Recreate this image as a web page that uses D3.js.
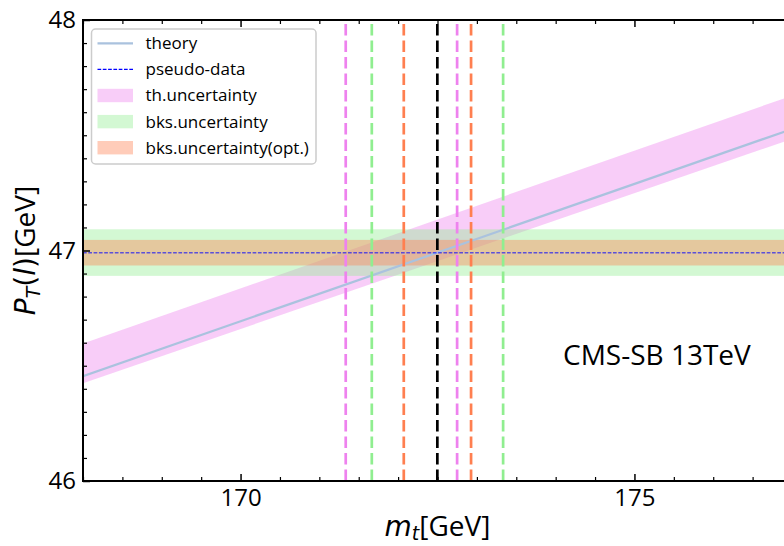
<!DOCTYPE html>
<html>
<head>
<meta charset="utf-8">
<script src="https://cdn.jsdelivr.net/npm/d3@7"></script>
<style>
  html, body { margin: 0; padding: 0; background: #fff; }
  svg { display: block; }
  text { font-family: "Open Sans", "Noto Sans", sans-serif; fill: #000; }
</style>
</head>
<body>
<svg id="chart" width="784" height="546"></svg>
<script>
// ---------------- data ----------------
const xDomain = [168, 177];
const yDomain = [46, 48];
const xMajorTicks = [170, 175];
const yMajorTicks = [46, 47, 48];
const xTickLabels = ["170", "175"];
const yTickLabels = ["46", "47", "48"];

// theory line and its (asymmetric) uncertainty band, read at the axis ends
const theoryMt = [168, 177];
const theoryPt = [46.455, 47.527];
const thUpper = [46.597, 47.672];
const thLower = [46.424, 47.484];

// pseudo-data and background uncertainty bands
const pseudoData = 46.99;
const bksBand = [46.89, 47.092];
const bksOptBand = [46.935, 47.046];

// vertical dashed lines (m_t values)
const thLines = [171.335, 172.749];
const bksLines = [171.666, 173.333];
const bksOptLines = [172.072, 172.926];
const centralLine = [172.498];

const legendLabels = ["theory", "pseudo-data", "th.uncertainty", "bks.uncertainty", "bks.uncertainty(opt.)"];
const annotation = "CMS-SB 13TeV";

// ---------------- layout ----------------
const svg = d3.select("#chart");
const L = 83, T = 20, B = 481, R = 792;

const x = d3.scaleLinear().domain(xDomain).range([L, R]);
const y = d3.scaleLinear().domain(yDomain).range([B, T]);

const col = {
  violet: "#EE82EE", lightgreen: "#90EE90", coral: "#FF7F50",
  theory: "#aac2de", blue: "#0000ff"
};

svg.append("defs").append("clipPath").attr("id", "plotclip")
  .append("rect").attr("x", L).attr("y", T).attr("width", R - L).attr("height", B - T);

const plot = svg.append("g").attr("clip-path", "url(#plotclip)");

// th uncertainty band
const bandPts = theoryMt.map((m, i) => ({ m, lo: thLower[i], hi: thUpper[i] }));
plot.append("path")
  .datum(bandPts)
  .attr("d", d3.area().x(d => x(d.m)).y0(d => y(d.lo)).y1(d => y(d.hi)))
  .attr("fill", col.violet).attr("fill-opacity", 0.4);

// bks band
plot.append("rect")
  .attr("x", x(xDomain[0])).attr("width", x(xDomain[1]) - x(xDomain[0]))
  .attr("y", y(bksBand[1])).attr("height", y(bksBand[0]) - y(bksBand[1]))
  .attr("fill", col.lightgreen).attr("fill-opacity", 0.4);

// bks opt band
plot.append("rect")
  .attr("x", x(xDomain[0])).attr("width", x(xDomain[1]) - x(xDomain[0]))
  .attr("y", y(bksOptBand[1])).attr("height", y(bksOptBand[0]) - y(bksOptBand[1]))
  .attr("fill", col.coral).attr("fill-opacity", 0.4);

// theory line
plot.append("path")
  .datum(theoryMt.map((m, i) => ({ m, v: theoryPt[i] })))
  .attr("d", d3.line().x(d => x(d.m)).y(d => y(d.v)))
  .attr("fill", "none").attr("stroke", col.theory).attr("stroke-width", 2.2);

// pseudo-data line
plot.append("line")
  .attr("x1", x(xDomain[0])).attr("x2", x(xDomain[1]))
  .attr("y1", y(pseudoData)).attr("y2", y(pseudoData))
  .attr("stroke", col.blue).attr("stroke-opacity", 0.6).attr("stroke-width", 1.4)
  .attr("stroke-dasharray", "3.7,1.6");

// vertical dashed lines
function vlines(vals, color) {
  plot.selectAll(null).data(vals).enter().append("line")
    .attr("x1", d => x(d)).attr("x2", d => x(d))
    .attr("y1", y(yDomain[0])).attr("y2", y(yDomain[1]))
    .attr("stroke", color).attr("stroke-width", 2.7)
    .attr("stroke-dasharray", "11.5,5");
}
vlines(thLines, col.violet);
vlines(bksLines, col.lightgreen);
vlines(bksOptLines, col.coral);
vlines(centralLine, "#000");

// ---------------- axes ----------------
const xMinor = d3.range(168, 177.001, 0.5).filter(v => !xMajorTicks.includes(v));
const yMinor = d3.range(46, 48.001, 0.1).map(v => +v.toFixed(1)).filter(v => !yMajorTicks.includes(v));

function styleAxis(g, fontSize) {
  g.select(".domain").remove();
  g.selectAll(".tick line").attr("stroke", "#000");
  g.selectAll(".tick text").style("font-size", fontSize + "px").attr("fill", "#000");
}

// bottom
const gxb = svg.append("g").attr("transform", `translate(0,${B})`)
  .call(d3.axisBottom(x).tickValues(xMajorTicks).tickFormat((d, i) => xTickLabels[i])
    .tickSizeInner(-7).tickSizeOuter(0).tickPadding(8));
styleAxis(gxb, 24);
gxb.selectAll(".tick line").attr("stroke-width", 1.5);
svg.append("g").attr("transform", `translate(0,${B})`)
  .call(d3.axisBottom(x).tickValues(xMinor).tickFormat("").tickSizeInner(-4).tickSizeOuter(0))
  .call(g => { styleAxis(g, 10); g.selectAll(".tick line").attr("stroke-width", 1.2); });

// top
svg.append("g").attr("transform", `translate(0,${T})`)
  .call(d3.axisTop(x).tickValues(xMajorTicks).tickFormat("").tickSizeInner(-7).tickSizeOuter(0))
  .call(g => { styleAxis(g, 10); g.selectAll(".tick line").attr("stroke-width", 1.5); });
svg.append("g").attr("transform", `translate(0,${T})`)
  .call(d3.axisTop(x).tickValues(xMinor).tickFormat("").tickSizeInner(-4).tickSizeOuter(0))
  .call(g => { styleAxis(g, 10); g.selectAll(".tick line").attr("stroke-width", 1.2); });

// left
const gyl = svg.append("g").attr("transform", `translate(${L},0)`)
  .call(d3.axisLeft(y).tickValues(yMajorTicks).tickFormat((d, i) => yTickLabels[i])
    .tickSizeInner(-7).tickSizeOuter(0).tickPadding(7));
styleAxis(gyl, 24);
gyl.selectAll(".tick line").attr("stroke-width", 1.5);
svg.append("g").attr("transform", `translate(${L},0)`)
  .call(d3.axisLeft(y).tickValues(yMinor).tickFormat("").tickSizeInner(-4).tickSizeOuter(0))
  .call(g => { styleAxis(g, 10); g.selectAll(".tick line").attr("stroke-width", 1.2); });

// right
svg.append("g").attr("transform", `translate(${R},0)`)
  .call(d3.axisRight(y).tickValues(yMajorTicks).tickFormat("").tickSizeInner(-7).tickSizeOuter(0))
  .call(g => { styleAxis(g, 10); g.selectAll(".tick line").attr("stroke-width", 1.5); });
svg.append("g").attr("transform", `translate(${R},0)`)
  .call(d3.axisRight(y).tickValues(yMinor).tickFormat("").tickSizeInner(-4).tickSizeOuter(0))
  .call(g => { styleAxis(g, 10); g.selectAll(".tick line").attr("stroke-width", 1.2); });

// spines
svg.append("rect").attr("x", L).attr("y", T).attr("width", R - L).attr("height", B - T)
  .attr("fill", "none").attr("stroke", "#000").attr("stroke-width", 2);

// ---------------- axis labels ----------------
const xl = svg.append("text").attr("x", (L + R) / 2).attr("y", 536)
  .attr("text-anchor", "middle").style("font-size", "28px");
xl.append("tspan").text("m").style("font-style", "italic").style("font-family", "DejaVu Sans");
xl.append("tspan").text("t").style("font-style", "italic").style("font-family", "DejaVu Sans")
  .style("font-size", "19px").attr("dy", 4);
xl.append("tspan").text("[GeV]").attr("dy", -4);

const yl = svg.append("text")
  .attr("transform", `translate(35,${(T + B) / 2}) rotate(-90)`)
  .attr("text-anchor", "middle").style("font-size", "28px");
yl.append("tspan").text("P").style("font-style", "italic").style("font-family", "DejaVu Sans");
yl.append("tspan").text("T").style("font-style", "italic").style("font-family", "DejaVu Sans")
  .style("font-size", "19px").attr("dy", 5);
yl.append("tspan").text("(").style("font-family", "DejaVu Sans").attr("dy", -5);
yl.append("tspan").text("l").style("font-style", "italic").style("font-family", "DejaVu Sans");
yl.append("tspan").text(")").style("font-family", "DejaVu Sans");
yl.append("tspan").text("[GeV]");

// annotation
svg.append("text").attr("x", 563).attr("y", 365).style("font-size", "28px").text(annotation);

// ---------------- legend ----------------
const lg = svg.append("g");
lg.append("rect").attr("x", 91.5).attr("y", 29).attr("width", 224.5).attr("height", 135)
  .attr("rx", 4).attr("fill", "#fff").attr("fill-opacity", 0.8)
  .attr("stroke", "#cccccc").attr("stroke-width", 1.5);
const rowY = i => 43.3 + i * 26.1;
const hx0 = 97.5, hx1 = 133;
lg.append("line").attr("x1", hx0).attr("x2", hx1).attr("y1", rowY(0)).attr("y2", rowY(0))
  .attr("stroke", col.theory).attr("stroke-width", 2.2);
lg.append("line").attr("x1", hx0).attr("x2", hx1).attr("y1", rowY(1)).attr("y2", rowY(1))
  .attr("stroke", col.blue).attr("stroke-width", 1.2).attr("stroke-dasharray", "3.7,1.6");
[col.violet, col.lightgreen, col.coral].forEach((c, k) => {
  lg.append("rect").attr("x", hx0).attr("width", hx1 - hx0)
    .attr("y", rowY(k + 2) - 6.7).attr("height", 13.4)
    .attr("fill", c).attr("fill-opacity", 0.4);
});
lg.selectAll(null).data(legendLabels).enter().append("text")
  .attr("x", 145.5).attr("y", (d, i) => rowY(i)).attr("dy", "0.35em")
  .style("font-size", "17px").text(d => d);
</script>
</body>
</html>
